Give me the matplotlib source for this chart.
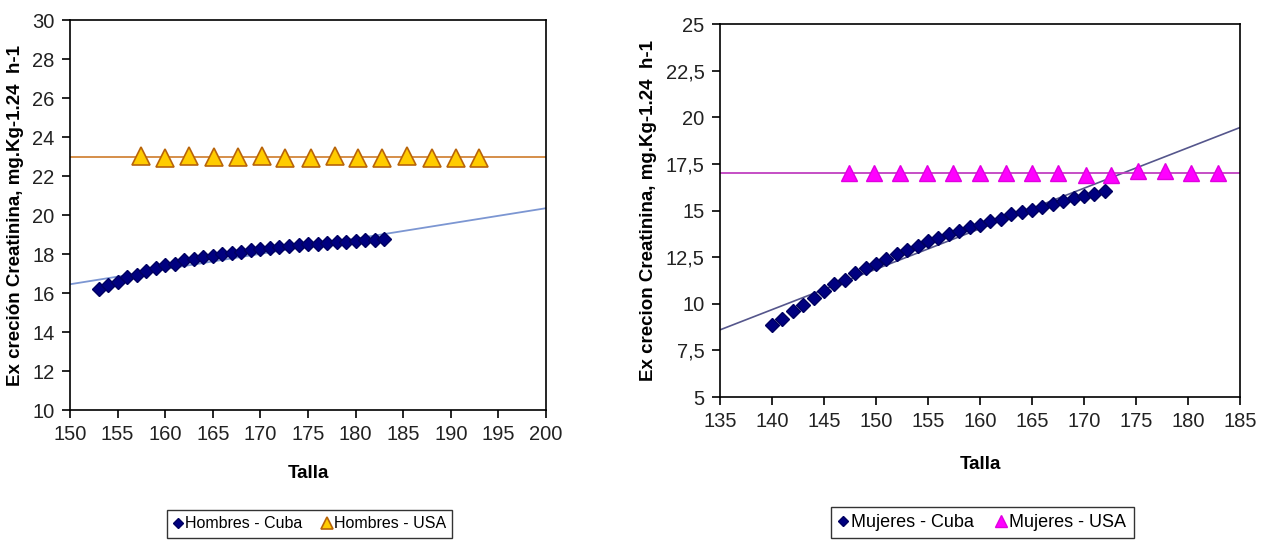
import matplotlib
matplotlib.use('Agg')
import numpy as np
import matplotlib.pyplot as plt

NARROW = ['Liberation Sans Narrow', 'Liberation Sans', 'DejaVu Sans']
SANS = ['Liberation Sans', 'DejaVu Sans']

# --- Hombres (left chart) ---
men_cuba_talla = list(range(153, 184))
men_cuba_val = [16.2, 16.4, 16.55, 16.8, 16.95, 17.15, 17.3, 17.45, 17.5, 17.7,
                17.75, 17.85, 17.9, 18.0, 18.05, 18.1, 18.2, 18.25, 18.3, 18.35,
                18.4, 18.45, 18.5, 18.5, 18.55, 18.6, 18.6, 18.65, 18.7, 18.7, 18.75]
men_usa_talla = [157.5, 160.0, 162.5, 165.1, 167.6, 170.2, 172.6, 175.3,
                 177.8, 180.3, 182.8, 185.4, 188.0, 190.5, 193.0]
men_usa_val = [23.05, 22.9, 23.05, 23.0, 23.0, 23.05, 22.95, 22.9,
               23.05, 22.95, 22.95, 23.05, 22.95, 22.95, 22.95]
men_usa_ref = 23.0
men_trend_x = [150, 200]
men_trend_y = [16.45, 20.35]

# --- Mujeres (right chart) ---
women_cuba_talla = list(range(140, 173))
women_cuba_val = [8.85, 9.2, 9.6, 9.95, 10.3, 10.7, 11.05, 11.3, 11.65, 11.9,
                  12.15, 12.4, 12.65, 12.9, 13.1, 13.35, 13.5, 13.75, 13.9, 14.1,
                  14.25, 14.45, 14.55, 14.8, 14.9, 15.05, 15.2, 15.35, 15.5, 15.65,
                  15.8, 15.9, 16.05]
women_usa_talla = [147.4, 149.8, 152.3, 154.9, 157.4, 160.0, 162.5, 165.0,
                   167.5, 170.2, 172.6, 175.2, 177.8, 180.3, 182.9]
women_usa_val = [17.0, 17.0, 17.0, 17.0, 17.0, 17.0, 17.0, 17.0,
                 17.0, 16.9, 16.9, 17.1, 17.1, 17.0, 17.0]
women_usa_ref = 17.0
women_trend_x = [135, 185]
women_trend_y = [8.6, 19.45]

left_yticks = [10, 12, 14, 16, 18, 20, 22, 24, 26, 28, 30]
left_xticks = [150, 155, 160, 165, 170, 175, 180, 185, 190, 195, 200]
right_yticks = [5, 7.5, 10, 12.5, 15, 17.5, 20, 22.5, 25]
right_ytick_labels = ['5', '7,5', '10', '12,5', '15', '17,5', '20', '22,5', '25']
right_xticks = [135, 140, 145, 150, 155, 160, 165, 170, 175, 180, 185]

YLABEL_MEN = 'Ex creción Creatinina, mg.Kg-1.24  h-1'
YLABEL_WOMEN = 'Ex crecion Creatinina, mg.Kg-1.24  h-1'


def style_axes(ax):
    for s in ax.spines.values():
        s.set_color('black')
        s.set_linewidth(1.2)
    ax.tick_params(direction='out', length=6, width=1.2, color='black',
                   labelsize=14.5, pad=5)
    for lab in ax.get_xticklabels() + ax.get_yticklabels():
        lab.set_family(NARROW)
        lab.set_color('#222222')


fig = plt.figure(figsize=(12.64, 5.4), dpi=100)

# left chart
ax1 = fig.add_axes([0.0554, 0.2407, 0.3766, 0.7222])
ax1.plot(men_trend_x, men_trend_y, color='#7C96D2', lw=1.3, zorder=2)
ax1.axhline(men_usa_ref, color='#D2863A', lw=1.3, zorder=2)
h1, = ax1.plot(men_cuba_talla, men_cuba_val, linestyle='none', marker='D',
               ms=7, color='#000080', mec='#000060', zorder=3, label='Hombres - Cuba')
h2, = ax1.plot(men_usa_talla, men_usa_val, linestyle='none', marker='^',
               ms=12.5, mfc='#FFCC00', mec='#B8640A', mew=1.2, zorder=3,
               label='Hombres - USA')
ax1.set_xlim(150, 200)
ax1.set_ylim(10, 30)
ax1.set_xticks(left_xticks)
ax1.set_yticks(left_yticks)
style_axes(ax1)
ax1.set_xlabel('Talla', fontsize=13.5, fontweight='bold', family=SANS, labelpad=15)
ax1.set_ylabel(YLABEL_MEN, fontsize=13.5, fontweight='bold', family=SANS, labelpad=6)

# right chart
ax2 = fig.add_axes([0.5696, 0.2648, 0.4114, 0.6907])
ax2.plot(women_trend_x, women_trend_y, color='#55568C', lw=1.2, zorder=2)
ax2.axhline(women_usa_ref, color='#C040C0', lw=1.3, zorder=2)
h3, = ax2.plot(women_cuba_talla, women_cuba_val, linestyle='none', marker='D',
               ms=7, color='#000080', mec='#000060', zorder=3, label='Mujeres - Cuba')
h4, = ax2.plot(women_usa_talla, women_usa_val, linestyle='none', marker='^',
               ms=11.5, color='#FF00FF', mec='#E000E0', zorder=3, label='Mujeres - USA')
ax2.set_xlim(135, 185)
ax2.set_ylim(5, 25)
ax2.set_xticks(right_xticks)
ax2.set_yticks(right_yticks)
ax2.set_yticklabels(right_ytick_labels)
style_axes(ax2)
ax2.set_xlabel('Talla', fontsize=13.5, fontweight='bold', family=SANS, labelpad=18)
ax2.set_ylabel(YLABEL_WOMEN, fontsize=13.5, fontweight='bold', family=SANS, labelpad=6)

leg_kw = dict(ncol=2, frameon=True, fancybox=False, edgecolor='black',
              handlelength=0.6, handletextpad=0.15, columnspacing=1.2,
              borderpad=0.4, loc='center', markerscale=0.7)
lg1 = fig.legend(handles=[h1, h2], bbox_to_anchor=(0.245, 0.03),
                 prop={'family': SANS, 'size': 11.5}, **leg_kw)
lg2 = fig.legend(handles=[h3, h4], bbox_to_anchor=(0.777, 0.032),
                 prop={'family': SANS, 'size': 13}, **leg_kw)
for lg in (lg1, lg2):
    lg.get_frame().set_linewidth(1.0)

fig.savefig('out.png', dpi=100)
